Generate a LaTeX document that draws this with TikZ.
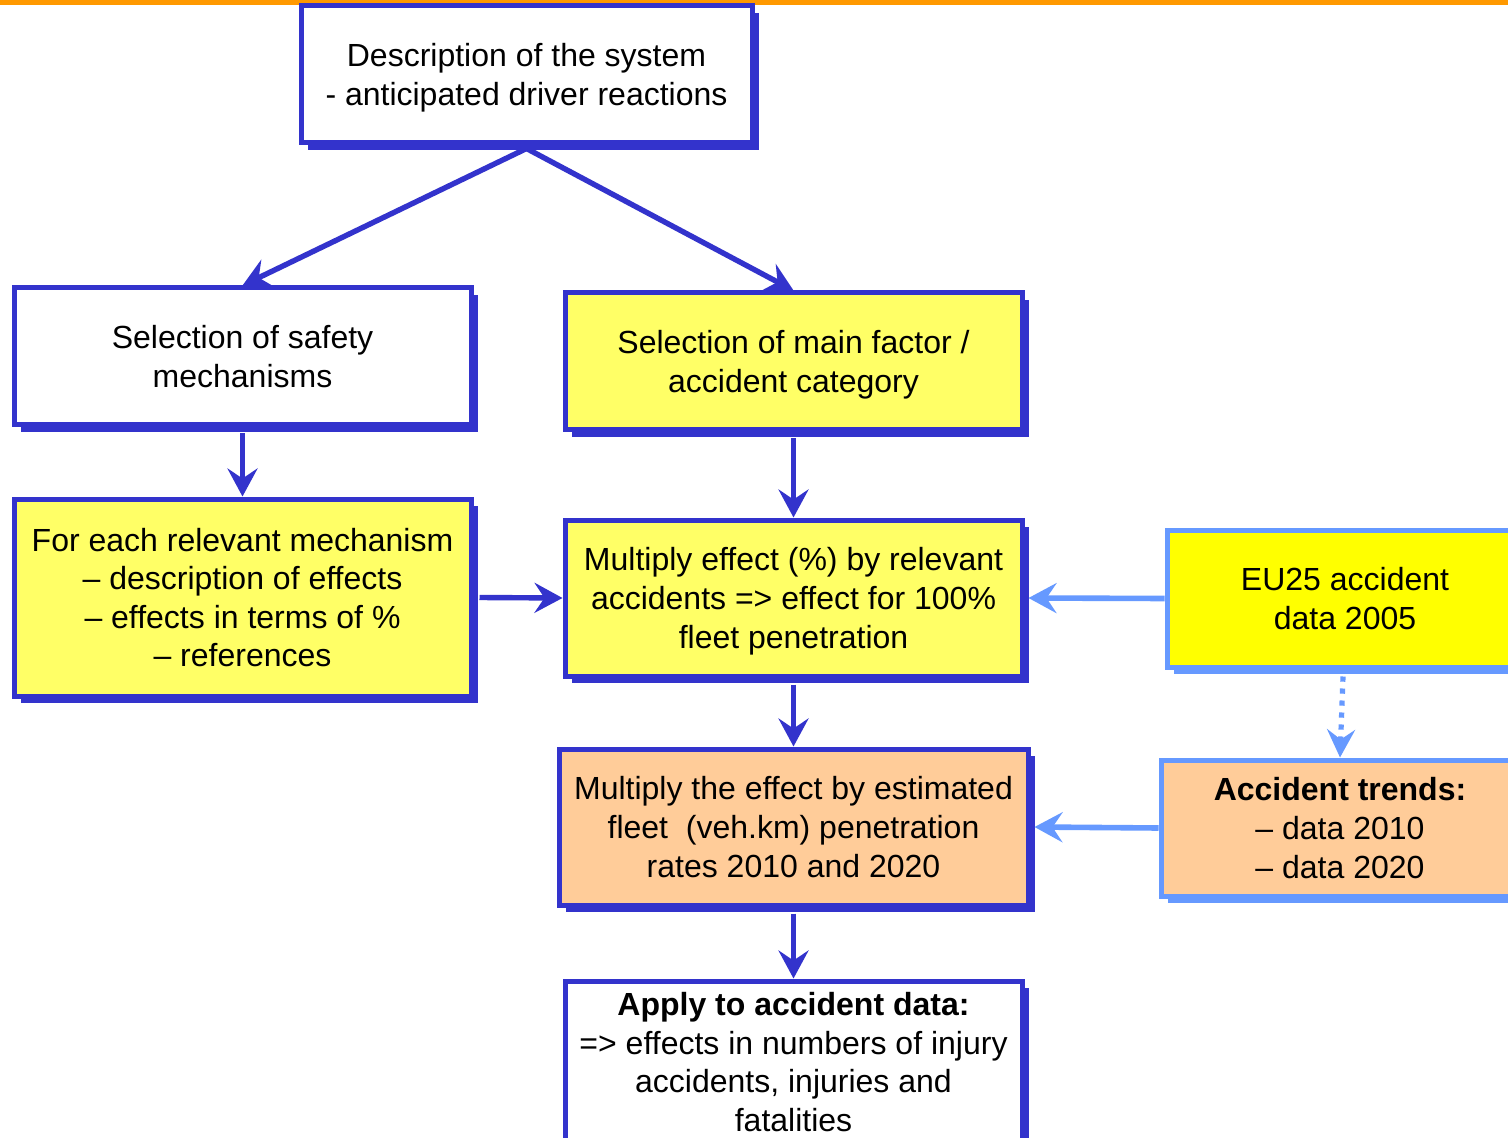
\documentclass[tikz,border=0pt]{standalone}
\usepackage{fontspec}
\setmainfont{Liberation Sans}
\usetikzlibrary{arrows.meta,shadows}
\definecolor{dkblue}{HTML}{3333CC}
\definecolor{ltblue}{HTML}{6699FF}
\definecolor{ylw}{HTML}{FFFF66}
\definecolor{ylwb}{HTML}{FFFF00}
\definecolor{peach}{HTML}{FFCC99}
\definecolor{orng}{HTML}{FF9900}
\begin{document}
\begin{tikzpicture}[x=0.5pt,y=-0.5pt,
  sbox/.style={draw=#1, line width=2.5pt, align=center, inner sep=0pt,
    font=\fontsize{16}{19.3}\selectfont,
    drop shadow={shadow xshift=3.5pt, shadow yshift=-3.5pt, fill=#1, opacity=1}},
  box/.style={sbox=dkblue},
  lbox/.style={sbox=ltblue},
  low/.style={text depth=0pt},
  arr/.style={draw=dkblue, line width=2.7pt, -{Stealth[length=14pt, width=15pt, inset=5pt]}},
  larr/.style={draw=ltblue, line width=2.8pt, -{Stealth[length=14pt, width=15pt, inset=5pt]}},
  darr/.style={draw=ltblue, line width=2.6pt, dash pattern=on 2.6pt off 3.4pt, -{Stealth[length=14pt, width=14pt, inset=5pt]}}
]
\useasboundingbox (0,0) rectangle (1508,1138);
\clip (0,0) rectangle (1508,1138);
\fill[white] (0,0) rectangle (1508,1138);
\fill[orng] (0,0) rectangle (1508,5);

\node[box, low, fill=white, minimum width=225.5pt, minimum height=68.5pt] (b1) at (526.5,74.5)
  {Description of the system\\- anticipated driver reactions};
\node[box, fill=white, minimum width=228.5pt, minimum height=68.5pt] (b2) at (242.5,356.5)
  {Selection of safety\\mechanisms};
\node[box, low, fill=ylw, minimum width=228.5pt, minimum height=68.5pt] (b3) at (793.5,361.5)
  {Selection of main factor /\\accident category};
\node[box, fill=ylw, minimum width=228.5pt, minimum height=98.5pt] (b4) at (242.5,597.5)
  {For each relevant mechanism\\– description of effects\\– effects in terms of \%\\– references};
\node[box, low, fill=ylw, minimum width=228.5pt, minimum height=78pt] (b5) at (793.5,598)
  {Multiply effect (\%) by relevant\\accidents => effect for 100\%\\fleet penetration};
\node[lbox, fill=ylwb, minimum width=178pt, minimum height=68.5pt] (b6) at (1345,598.5)
  {EU25 accident\\data 2005};
\node[box, fill=peach, minimum width=234.5pt, minimum height=78pt] (b7) at (793.5,827)
  {Multiply the effect by estimated\\fleet\ \ (veh.km) penetration\\rates 2010 and 2020};
\node[lbox, fill=peach, minimum width=179pt, minimum height=68pt] (b8) at (1340,828)
  {\textbf{Accident trends:}\\– data 2010\\– data 2020};
\node[box, fill=white, minimum width=228.5pt, minimum height=81pt] (b9) at (793.5,1062)
  {\textbf{Apply to accident data:}\\=> effects in numbers of injury\\accidents, injuries and\\fatalities};

\draw[arr] ([yshift=-1.5pt]b1.south) -- (b2.north);
\draw[arr] ([yshift=-1.5pt]b1.south) -- (b3.north);
\draw[arr] ([yshift=-3pt]b2.south) -- (b4.north);
\draw[arr] ([yshift=-3pt]b3.south) -- (b5.north);
\draw[arr] ([xshift=3pt]b4.east) -- (b5.west);
\draw[larr] (b6.west) -- ([xshift=2pt]b5.east);
\draw[arr] ([yshift=-3pt]b5.south) -- (b7.north);
\draw[larr] (b8.west) -- ([xshift=2pt]b7.east);
\draw[darr] ([xshift=-1pt,yshift=-3.5pt]b6.south) -- (b8.north);
\draw[arr] ([yshift=-3pt]b7.south) -- (b9.north);
\end{tikzpicture}
\end{document}
